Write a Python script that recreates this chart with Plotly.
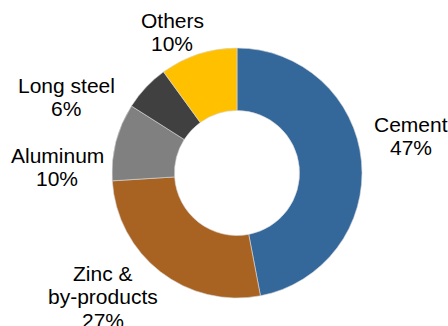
import plotly.graph_objects as go

categories = ["Cement", "Zinc &<br>by-products", "Aluminum", "Long steel", "Others"]
values = [47, 27, 10, 6, 10]
colors = ["#34679A", "#A86323", "#808080", "#404040", "#FFC000"]

W, H = 448, 326
FS = 21
LINE = 23.5
# label block: (center x, baseline of first line) in pixels
label_pos = [(411, 132), (103, 281), (57, 163), (66, 93), (172, 28)]

fig = go.Figure(go.Pie(
    labels=categories,
    values=values,
    hole=0.5,
    sort=False,
    direction="clockwise",
    rotation=0,
    textinfo="none",
    hoverinfo="label+percent",
    marker=dict(colors=colors, line=dict(color="#d9d9d9", width=0.6)),
    domain=dict(x=[112 / W, 362 / W], y=[1 - 298 / H, 1 - 48 / H]),
    showlegend=False,
))

total = sum(values)
for cat, v, (px, base) in zip(categories, values, label_pos):
    lines = cat.split("<br>") + [f"{round(100 * v / total)}%"]
    for i, ln in enumerate(lines):
        yb = base + i * LINE
        yc = yb - 0.36 * FS
        fig.add_annotation(
            x=px / W, y=1 - yc / H, xref="paper", yref="paper",
            text=ln, showarrow=False, xanchor="center", yanchor="middle",
            font=dict(family="Liberation Sans, Arial", size=FS, color="#000000"),
        )

fig.update_layout(
    width=W, height=H,
    margin=dict(l=0, r=0, t=0, b=0),
    paper_bgcolor="white", plot_bgcolor="white",
)

fig.write_html("out.html")
